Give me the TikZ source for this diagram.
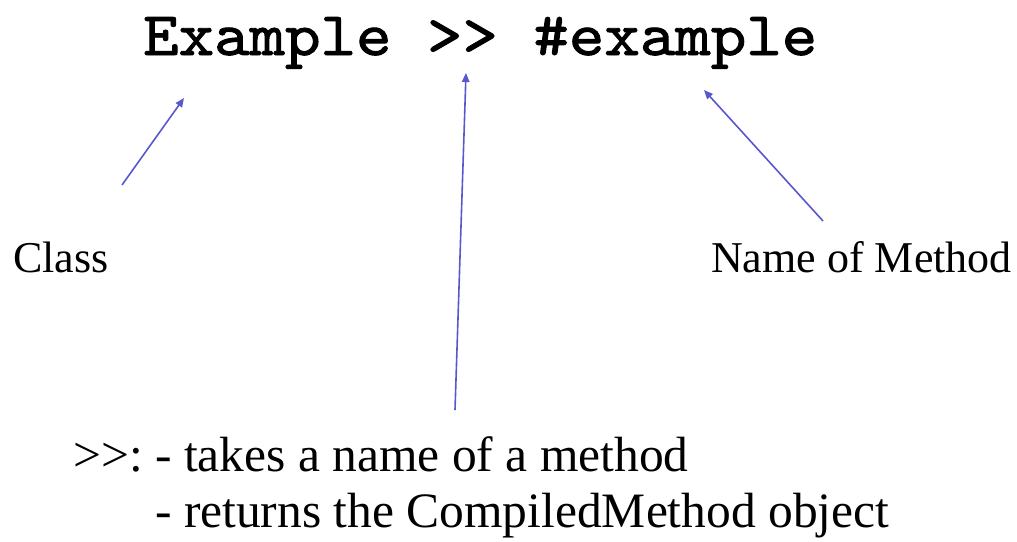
\documentclass[tikz,border=0pt]{standalone}
\usepackage{fontspec}
\setmainfont{Liberation Serif}
\newfontfamily\codefont{lmmono10-regular.otf}[FakeBold=1.5,FakeStretch=1.09]
\usetikzlibrary{arrows.meta}

\definecolor{pointer}{RGB}{88,88,205}

\tikzset{
  pointerarrow/.style={draw=pointer, line width=1.6pt,
    -{Triangle[length=9pt,width=7.5pt]}, shorten >=0pt},
  label/.style={inner sep=0pt, anchor=base west, font=\fontsize{44}{50}\selectfont},
  code/.style={inner sep=0pt, anchor=base west, font=\codefont\fontsize{62}{70}\selectfont},
  note/.style={inner sep=0pt, anchor=base west, font=\fontsize{49.5}{56}\selectfont}
}

\begin{document}
\begin{tikzpicture}[x=1pt, y=-1pt]
  \useasboundingbox (0,0) rectangle (1017,541);

  % the message expression
  \node[code] (expr) at (143,55) {Example >> \#example};

  % labels for the parts of the expression
  \node[label] (cls) at (13,272) {Class};
  \node[label] (mname) at (711,272) {Name of Method};

  % explanation of the >> selector
  \node[note] (sel) at (73,471) {%
    \def\arraystretch{1}%
    \begin{tabular}[t]{@{}l@{\hspace{0.25em}}l@{}}
      >{}>: & - takes a name of a method\\
            & - returns the CompiledMethod object
    \end{tabular}};

  % arrow end points
  \coordinate (clsTail)  at (122,185);
  \coordinate (clsHead)  at (184,98);
  \coordinate (selTail)  at (455,410);
  \coordinate (selHead)  at (466,73);
  \coordinate (mTail)    at (823,221);
  \coordinate (mHead)    at (704,90);

  \draw[pointerarrow] (clsTail) -- (clsHead);
  \draw[pointerarrow] (selTail) -- (selHead);
  \draw[pointerarrow] (mTail) -- (mHead);
\end{tikzpicture}
\end{document}
